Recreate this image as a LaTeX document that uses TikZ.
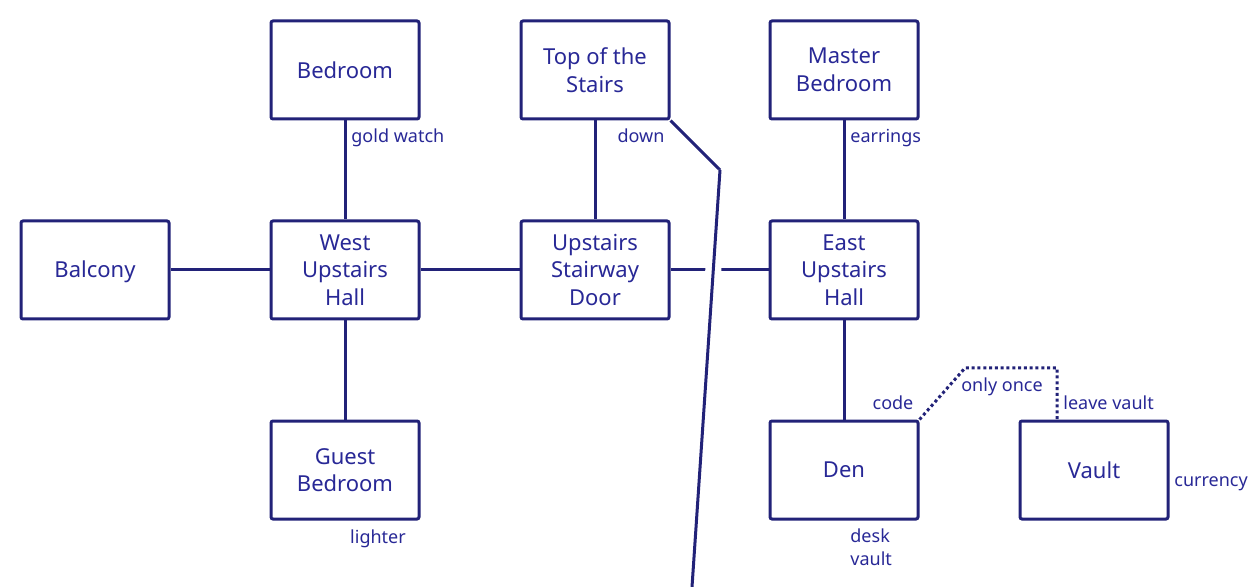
\documentclass[tikz,border=0pt]{standalone}
\usepackage{fontspec}
\setmainfont{Noto Sans}
\definecolor{roomline}{RGB}{34,34,120}
\definecolor{roomtext}{RGB}{40,40,150}
\tikzset{
	room/.style={draw=roomline, line width=1.5pt, rounded corners=1pt, fill=white,
		minimum width=74pt, minimum height=49pt, align=center, text=roomtext,
		font=\fontsize{11}{13.8}\selectfont},
	link/.style={draw=roomline, line width=1.5pt},
	item/.style={text=roomtext, inner sep=0pt, font=\fontsize{9}{11.5}\selectfont}
}
\begin{document}
\begin{tikzpicture}[x=0.5pt, y=-0.5pt]
	\useasboundingbox (0, 0) rectangle (1252, 587);

	%% rooms
	\node[room] (bedroom) at (345, 70) {Bedroom};
	\node[room] (stairs)  at (595, 70) {Top of the\\Stairs};
	\node[room] (master)  at (844, 70) {Master\\Bedroom};
	\node[room, text height=9pt, text depth=1pt] (balcony) at (95, 270) {Balcony};
	\node[room] (west)    at (345, 270) {West\\Upstairs\\Hall};
	\node[room] (door)    at (595, 270) {Upstairs\\Stairway\\Door};
	\node[room] (east)    at (844, 270) {East\\Upstairs\\Hall};
	\node[room] (guest)   at (345, 470) {Guest\\Bedroom};
	\node[room] (den)     at (844, 470) {Den};
	\node[room] (vault)   at (1094, 470) {Vault};

	%% passages
	\draw[link] (balcony) -- (west);
	\draw[link] (bedroom) -- (west);
	\draw[link] (west) -- (guest);
	\draw[link] (west) -- (door);
	\draw[link] (stairs) -- (door);
	\draw[link] (door) -- (east);
	\draw[link] (master) -- (east);
	\draw[link] (east) -- (den);

	%% way down
	\coordinate (bend) at (720, 170);
	\coordinate (below) at (692, 587);
	\draw[link] (stairs.south east) -- (bend);
	\draw[link, preaction={draw=white, line width=8pt}] (bend) -- (below);

	%% one way exit
	\coordinate (once) at (965, 368);
	\coordinate (leave) at (1057, 420);
	\draw[link, dash pattern=on 1.5pt off 1.4pt] (den.north east) -- (once) -| (leave);

	%% items and labels
	\node[item, anchor=west] at (351, 138) {gold watch};
	\node[item] at (641, 136) {down};
	\node[item, anchor=west] at (850, 138) {earrings};
	\node[item] at (893, 403) {code};
	\node[item] at (1002, 387) {only once};
	\node[item, anchor=west] at (1063, 403) {leave vault};
	\node[item, anchor=west] at (1174, 484) {currency};
	\node[item] at (378, 539) {lighter};
	\node[item, anchor=north west, align=left] at (850, 528) {desk\\vault};
\end{tikzpicture}
\end{document}
